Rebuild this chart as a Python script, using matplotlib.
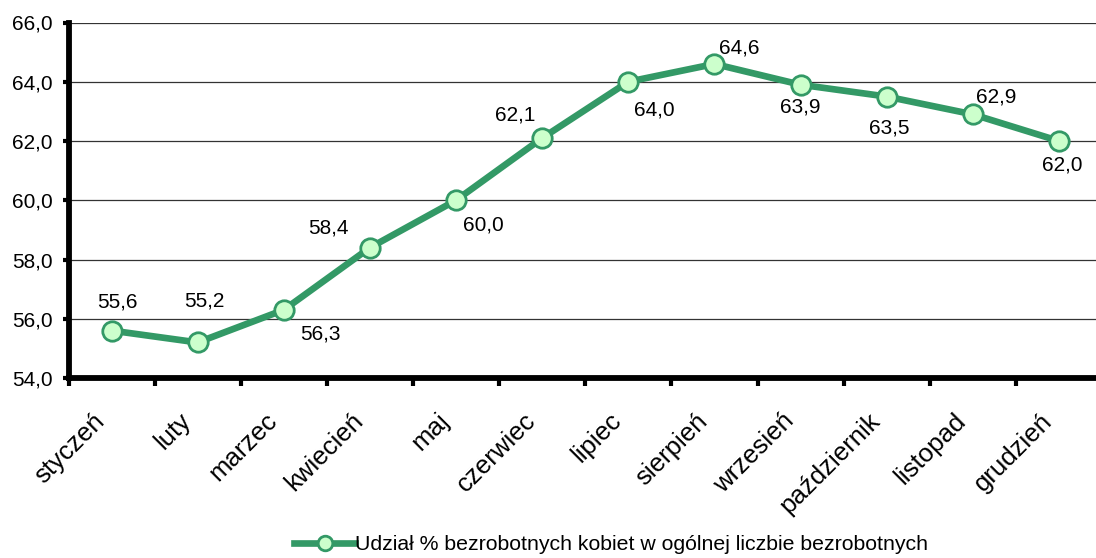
import matplotlib.pyplot as plt
import matplotlib.transforms as mtransforms
from matplotlib.ticker import FuncFormatter, FixedLocator

plt.rcParams['font.family'] = ['Liberation Sans', 'DejaVu Sans']

months = ['styczeń', 'luty', 'marzec', 'kwiecień', 'maj', 'czerwiec',
          'lipiec', 'sierpień', 'wrzesień', 'październik', 'listopad', 'grudzień']
share = [55.6, 55.2, 56.3, 58.4, 60.0, 62.1, 64.0, 64.6, 63.9, 63.5, 62.9, 62.0]
series_name = 'Udział % bezrobotnych kobiet w ogólnej liczbie bezrobotnych'

# label offsets in pixels (dx, dy), y downwards
label_px = [(6, -29), (7, -41), (37, 24), (-42, -20), (27, 25), (-27, -23),
            (26, 28), (25, -16), (0, 22), (3, 31), (23, -17), (3, 24)]

green = '#339966'
fig = plt.figure(figsize=(10.96, 5.58), dpi=100)
ax = fig.add_axes([68.5 / 1096, 1 - 378 / 558, (1102 - 68.5) / 1096, (378 - 22.5) / 558])

x = list(range(len(months)))
ax.plot(x, share, color=green, lw=4.8, marker='o', ms=14,
        mfc='#ccffcc', mec=green, mew=2, label=series_name, zorder=3)

for xi, v, (dx, dy) in zip(x, share, label_px):
    ax.annotate(f'{v:.1f}'.replace('.', ','), (xi, v), xytext=(dx * 0.72, -dy * 0.72),
                textcoords='offset points', ha='center', va='center', fontsize=15)

ax.set_xlim(-0.5, len(months) - 0.5)
ax.set_ylim(54, 66)
ax.set_yticks([54, 56, 58, 60, 62, 64, 66])
ax.yaxis.set_major_formatter(FuncFormatter(lambda v, p: f'{v:.1f}'.replace('.', ',')))
ax.grid(axis='y', color='#333333', lw=0.9)
ax.set_axisbelow(True)

ax.set_xticks(x)
ax.set_xticklabels(months, rotation=45, ha='right', rotation_mode='anchor', fontsize=18.6)
ax.tick_params(axis='x', which='major', length=0, pad=22)
shift = mtransforms.ScaledTranslation(-19 / 100, 0, fig.dpi_scale_trans)
for lab in ax.get_xticklabels():
    lab.set_transform(lab.get_transform() + shift)
ax.xaxis.set_minor_locator(FixedLocator([i - 0.5 for i in range(len(months) + 1)]))
ax.tick_params(axis='x', which='minor', length=6, width=3, direction='out')
ax.tick_params(axis='y', length=4.5, width=3, labelsize=15, pad=7)

for s in ['top', 'right']:
    ax.spines[s].set_visible(False)
ax.spines['left'].set_linewidth(4.2)
ax.spines['bottom'].set_linewidth(4.2)

fig.legend(loc='center', bbox_to_anchor=(611 / 1096, 1 - 545 / 558), frameon=False,
           fontsize=15.3, handlelength=2.9, handletextpad=0.0, markerscale=0.75)

fig.savefig('out.png', dpi=100)
